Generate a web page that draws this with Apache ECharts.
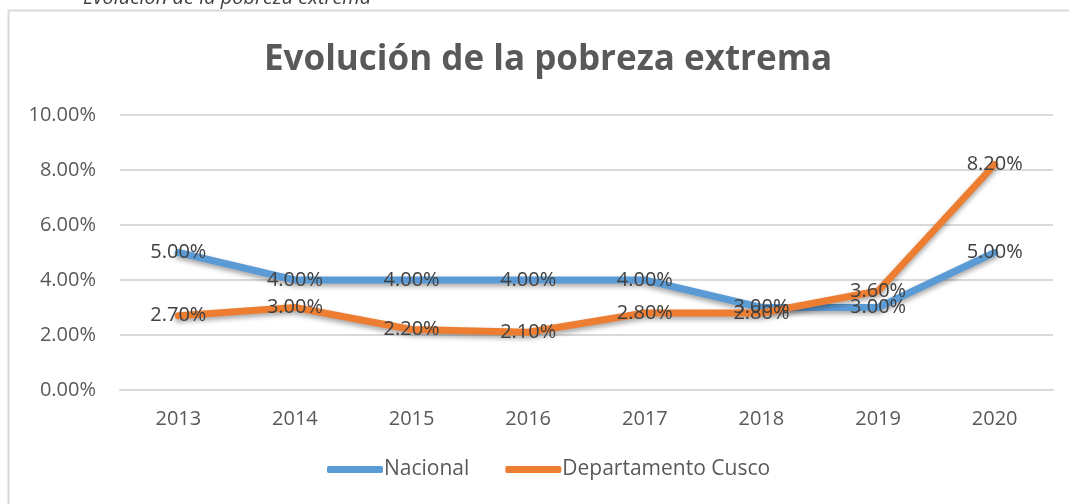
<!DOCTYPE html>
<html>
<head>
<meta charset="utf-8">
<script src="https://cdn.jsdelivr.net/npm/echarts@6/dist/echarts.min.js"></script>
<style>
  html, body { margin: 0; padding: 0; background: #fff; }
  #chart { width: 1069px; height: 504px; }
</style>
</head>
<body>
<div id="chart"></div>
<script>
// datos
var years = ["2013", "2014", "2015", "2016", "2017", "2018", "2019", "2020"];
var nacional = [5.0, 4.0, 4.0, 4.0, 4.0, 3.0, 3.0, 5.0];
var cusco = [2.7, 3.0, 2.2, 2.1, 2.8, 2.8, 3.6, 8.2];
var yTicks = [0, 2, 4, 6, 8, 10];

var txt = "#595959";
var font = "'Open Sans', 'Noto Sans', sans-serif";

var chart = echarts.init(document.getElementById("chart"));

function lineSerie(name, data, color) {
  return {
    name: name,
    type: "line",
    data: data,
    symbol: "circle",
    symbolSize: 1,
    lineStyle: {
      width: 7,
      color: color,
      cap: "round",
      join: "round",
      shadowColor: "rgba(0,0,0,0.35)",
      shadowBlur: 5,
      shadowOffsetY: 3
    },
    itemStyle: { color: color },
    label: {
      show: true,
      position: "inside",
      color: "#404040",
      fontSize: 20,
      fontFamily: font,
      formatter: function (p) { return p.value.toFixed(2) + "%"; }
    },
    labelLayout: { hideOverlap: false }
  };
}

chart.setOption({
  animation: false,
  title: {
    text: "Evolución de la pobreza extrema",
    left: 259,
    top: 38,
    textStyle: { color: txt, fontSize: 35, fontWeight: "bold", fontFamily: font }
  },
  graphic: [
    {
      type: "rect",
      shape: { x: 8.5, y: 10.5, width: 1100, height: 600 },
      style: { fill: "none", stroke: "#d9d9d9", lineWidth: 2 },
      silent: true
    },
    {
      type: "text",
      left: 83,
      top: -12,
      style: {
        text: "Evolución de la pobreza extrema",
        fill: "#404040",
        fontSize: 20,
        fontStyle: "italic",
        fontFamily: font
      }
    }
  ],
  legend: {
    bottom: 19,
    left: 322,
    itemWidth: 56,
    itemHeight: 7,
    itemGap: 36,
    icon: "roundRect",
    textStyle: { color: txt, fontSize: 21, fontFamily: font, padding: [0, 0, 0, -4] },
    data: ["Nacional", "Departamento Cusco"]
  },
  grid: { left: 120, right: 16, top: 115, bottom: 114 },
  xAxis: {
    type: "category",
    data: years,
    axisLine: { lineStyle: { color: "#d9d9d9", width: 2 } },
    axisTick: { show: false },
    axisLabel: { color: txt, fontSize: 20, fontFamily: font, margin: 19 }
  },
  yAxis: {
    type: "value",
    min: yTicks[0],
    max: yTicks[yTicks.length - 1],
    interval: 2,
    axisLine: { show: false },
    axisTick: { show: false },
    splitLine: { lineStyle: { color: "#d9d9d9", width: 2 } },
    axisLabel: {
      color: txt, fontSize: 20, fontFamily: font, margin: 24,
      formatter: function (v) { return v.toFixed(2) + "%"; }
    }
  },
  series: [
    lineSerie("Nacional", nacional, "#5B9BD5"),
    lineSerie("Departamento Cusco", cusco, "#ED7D31")
  ]
});
</script>
</body>
</html>
